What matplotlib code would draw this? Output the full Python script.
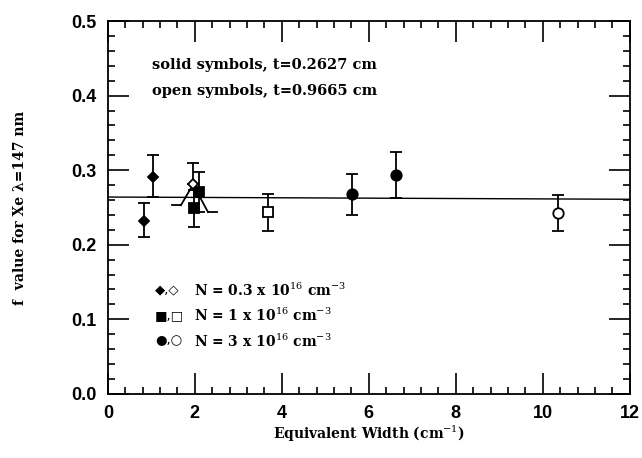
import numpy as np
import matplotlib
matplotlib.use('Agg')
from matplotlib import pyplot as plt
from matplotlib.ticker import MultipleLocator

# solid symbols, t=0.2627 cm
dia_x = [0.83, 1.04]
dia_y = [0.232, 0.291]
dia_lo = [0.022, 0.027]
dia_hi = [0.024, 0.030]

sq_x = [1.98, 2.09]
sq_y = [0.249, 0.271]
sq_lo = [0.025, 0.027]
sq_hi = [0.025, 0.027]

circ_x = [5.62, 6.62]
circ_y = [0.268, 0.294]
circ_lo = [0.028, 0.031]
circ_hi = [0.027, 0.030]

# open symbols, t=0.9665 cm
odia_x = [1.96]
odia_y = [0.281]
odia_hi = [0.029]
odia_lo_left = [0.253]   # slanted lower bars in the original
odia_lo_right = [0.244]
odia_slant = [0.28, 0.34]

osq_x = [3.69]
osq_y = [0.244]
osq_lo = [0.025]
osq_hi = [0.024]

ocirc_x = [10.35]
ocirc_y = [0.242]
ocirc_lo = [0.024]
ocirc_hi = [0.025]

fit_x = [0, 12]
fit_y = [0.264, 0.261]

serif = ['DejaVu Serif']
legend_rows = [
    ('\u25c6,\u25c7', r'N = 0.3 x 10$^{16}$ cm$^{-3}$'),
    ('\u25a0,\u25a1', r'N = 1 x 10$^{16}$ cm$^{-3}$'),
    ('\u25cf,\u25cb', r'N = 3 x 10$^{16}$ cm$^{-3}$'),
]


def errpts(ax, x, y, lo, hi, marker, filled, ms):
    fc = 'black' if filled else 'white'
    ax.errorbar(x, y, yerr=[lo, hi], fmt=marker, ms=ms, mfc=fc, mec='black',
                mew=1.3, ecolor='black', elinewidth=1.3, capsize=4.5,
                capthick=1.3, zorder=3)


def main():
    plt.rcParams['mathtext.fontset'] = 'dejavuserif'
    fig = plt.figure(figsize=(6.42, 4.58), dpi=100)
    ax = fig.add_axes([0.168, 0.140, 0.813, 0.814])

    ax.plot(fit_x, fit_y, color='black', lw=1.0, zorder=2)

    errpts(ax, dia_x, dia_y, dia_lo, dia_hi, 'D', True, 5.5)
    errpts(ax, sq_x, sq_y, sq_lo, sq_hi, 's', True, 7)
    errpts(ax, circ_x, circ_y, circ_lo, circ_hi, 'o', True, 7.5)

    # open diamond: upper bar plus the two slanted lower bars
    ax.errorbar(odia_x, odia_y, yerr=[[0], odia_hi], fmt='none', ecolor='black',
                elinewidth=1.3, capsize=4.5, capthick=1.3, zorder=3)
    for x, y, yl, yr in zip(odia_x, odia_y, odia_lo_left, odia_lo_right):
        xl, xr = x - odia_slant[0], x + odia_slant[1]
        ax.plot([x, xl], [y, yl], color='black', lw=1.3, zorder=3)
        ax.plot([x, xr], [y, yr], color='black', lw=1.3, zorder=3)
        ax.plot([xl - 0.2, xl], [yl, yl], color='black', lw=1.3, zorder=3)
        ax.plot([xr, xr + 0.2], [yr, yr], color='black', lw=1.3, zorder=3)
    ax.plot(odia_x, odia_y, 'D', ms=5.5, mfc='white', mec='black', mew=1.3, zorder=4)

    errpts(ax, osq_x, osq_y, osq_lo, osq_hi, 's', False, 7)
    errpts(ax, ocirc_x, ocirc_y, ocirc_lo, ocirc_hi, 'o', False, 7.5)

    ax.set_xlim(0, 12)
    ax.set_ylim(0, 0.5)
    ax.xaxis.set_major_locator(MultipleLocator(2))
    ax.xaxis.set_minor_locator(MultipleLocator(0.4))
    ax.yaxis.set_major_locator(MultipleLocator(0.1))
    ax.yaxis.set_minor_locator(MultipleLocator(0.02))
    ax.yaxis.set_major_formatter(matplotlib.ticker.FormatStrFormatter('%.1f'))
    ax.tick_params(which='both', direction='in', top=True, right=True, width=1.2)
    ax.tick_params(which='major', length=15, labelsize=13, pad=8)
    ax.tick_params(which='minor', length=5)
    for lab in ax.get_xticklabels() + ax.get_yticklabels():
        lab.set_family('Liberation Sans')
        lab.set_fontweight('bold')
    for s in ax.spines.values():
        s.set_linewidth(1.3)

    ax.set_xlabel(r'Equivalent Width (cm$^{-1}$)', family=serif, fontweight='bold',
                  fontsize=10, labelpad=1)
    ax.set_ylabel('f  value for Xe \u03bb=147 nm', family=serif, fontweight='bold',
                  fontsize=10, labelpad=32)

    ax.text(0.085, 0.882, 'solid symbols, t=0.2627 cm', transform=ax.transAxes,
            family=serif, fontweight='bold', fontsize=10.5, va='center')
    ax.text(0.085, 0.812, 'open symbols, t=0.9665 cm', transform=ax.transAxes,
            family=serif, fontweight='bold', fontsize=10.5, va='center')

    for i, (sym, txt) in enumerate(legend_rows):
        yy = 0.278 - i * 0.068
        ax.text(0.09, yy, sym, transform=ax.transAxes, family=['DejaVu Sans'],
                fontsize=9.5, va='center')
        ax.text(0.165, yy, txt, transform=ax.transAxes, family=serif,
                fontweight='bold', fontsize=10, va='center')

    fig.savefig('out.png', dpi=100)


if __name__ == '__main__':
    main()
